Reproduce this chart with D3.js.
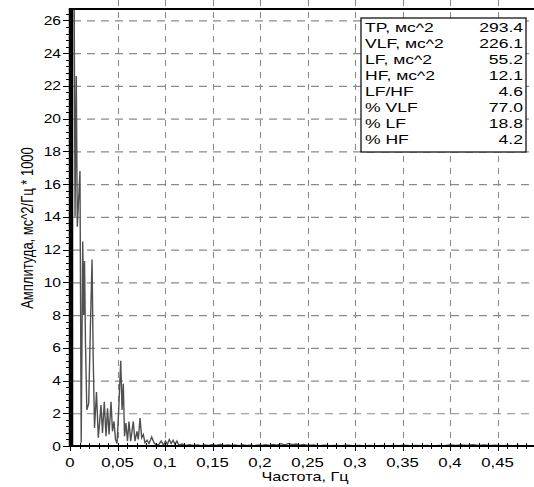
<!DOCTYPE html>
<html><head><meta charset="utf-8">
<script src="https://cdn.jsdelivr.net/npm/d3@7"></script>
<style>html,body{margin:0;padding:0;background:#fff;}svg{display:block;}</style>
</head><body>
<svg id="chart" width="534" height="487"></svg>
<script>
// ---- data ----
const specFreq = [0,0.0021,0.0042,0.0053,0.0066,0.0077,0.0105,0.0118,0.0134,0.0144,0.0153,0.0163,0.0177,0.0197,0.0214,0.0232,0.0244,0.0258,0.0279,0.0298,0.0311,0.0326,0.0342,0.0361,0.0379,0.0395,0.0411,0.0432,0.0447,0.0463,0.0479,0.0495,0.0511,0.0534,0.0548,0.0561,0.0574,0.0589,0.0605,0.0621,0.0639,0.0666,0.0684,0.0705,0.0719,0.0737,0.0755,0.0772,0.0789,0.0811,0.0832,0.0860,0.0884,0.0913,
  0.0935,0.096,0.0985,0.1005,0.1025,0.1045,0.1065,0.1085,0.1105,0.1125,0.1145,0.118,0.122,0.126,0.130,0.134,0.138,0.142,0.146,0.150,0.154,0.158,0.162,0.166,0.170,0.174,0.178,0.182,0.186,0.190,0.194,0.198,0.202,0.206,0.210,0.214,0.218,0.222,0.226,0.230,0.234,0.238,0.242,0.246,0.250,0.256,0.262,0.268,0.274,0.280,0.286,0.292,0.298,0.304,0.310,0.316,0.322,0.328,0.334,0.340,0.346,0.352,0.358,0.364,0.370,0.376,0.382,0.388,0.394,0.400,0.406,0.412,0.418,0.424,0.430,0.436,0.442,0.448,0.454,0.460,0.466,0.472,0.478,0.486];
const specAmp = [45,40,30,14,22.6,13.4,16.8,0.2,12.5,8,11.3,6.3,2.2,2.6,7.1,11.4,5.5,1.1,3.3,0.5,1.4,2.5,0.8,2.7,0.6,2.3,0.7,2.7,0.9,1.5,0.4,0.15,2.0,5.2,2.2,3.8,0.6,1.4,0.3,1.5,0.3,1.5,0.3,0.9,0.4,1.7,0.5,0.7,0.2,0.35,0.15,0.55,0.2,0.05,
  0.1,0.3,0.05,0.3,0.1,0.4,0.15,0.35,0.1,0.3,0.05,0.12,0.04,0.08,0.03,0.07,0.02,0.06,0.03,0.08,0.03,0.1,0.04,0.07,0.03,0.06,0.02,0.07,0.03,0.05,0.02,0.06,0.03,0.08,0.04,0.09,0.05,0.14,0.06,0.16,0.08,0.12,0.05,0.09,0.03,0.06,0.02,0.05,0.02,0.04,0.02,0.05,0.02,0.04,0.02,0.03,0.01,0.03,0.01,0.04,0.02,0.05,0.02,0.04,0.02,0.03,0.01,0.04,0.02,0.06,0.03,0.07,0.03,0.08,0.04,0.07,0.03,0.05,0.02,0.04,0.02,0.03,0.01,0.02];
const xTicks = [0,0.05,0.1,0.15,0.2,0.25,0.3,0.35,0.4,0.45];
const xTickLabels = ["0","0,05","0,1","0,15","0,2","0,25","0,3","0,35","0,4","0,45"];
const yTicks = [0,2,4,6,8,10,12,14,16,18,20,22,24,26];
const statNames = ["TP, мс^2","VLF, мс^2","LF, мс^2","HF, мс^2","LF/HF","% VLF","% LF","% HF"];
const statValues = ["293.4","226.1","55.2","12.1","4.6","77.0","18.8","4.2"];
const xTitle = "Частота, Гц";
const yTitle = "Амплитуда, мс^2/Гц * 1000";

// ---- layout ----
const svg = d3.select("#chart");
const L = 70, R = 534, T = 9, B = 446;
const x = d3.scaleLinear().domain([0, 0.5]).range([L, L + 475]);
const y = d3.scaleLinear().domain([0, 26.7]).range([B, T]);
const FONT = "'Liberation Sans', Arial, sans-serif";
const SX = 1.35;

function stext(g, tx, ty, str, size, anchor, sx) {
  return g.append("text")
    .attr("transform", `translate(${tx},${ty}) scale(${sx||SX},1)`)
    .attr("text-anchor", anchor || "start")
    .attr("font-family", FONT).attr("font-size", size)
    .attr("fill", "#000").text(str);
}

// grid
const grid = svg.append("g");
grid.selectAll("line.h").data(yTicks.filter(d => d > 0)).join("line")
  .attr("x1", L + 3).attr("x2", R).attr("y1", d => y(d) + 0.5).attr("y2", d => y(d) + 0.5)
  .attr("stroke", "#8a8a8a").attr("stroke-width", 1.2).attr("stroke-dasharray", "8,6");
grid.selectAll("line.v").data(xTicks.filter(d => d > 0)).join("line")
  .attr("x1", d => Math.round(x(d)) + 0.5).attr("x2", d => Math.round(x(d)) + 0.5)
  .attr("y1", 0).attr("y2", B)
  .attr("stroke", "#8a8a8a").attr("stroke-width", 1.1).attr("stroke-dasharray", "6,6");

// spectrum
svg.append("clipPath").attr("id", "clip").append("rect")
  .attr("x", L).attr("y", T).attr("width", R - L).attr("height", B - T);
const pts = specFreq.map((f, i) => [f, specAmp[i]]);
svg.append("path").datum(pts)
  .attr("clip-path", "url(#clip)")
  .attr("fill", "none").attr("stroke", "#505050").attr("stroke-width", 1.4)
  .attr("stroke-linejoin", "miter")
  .attr("d", d3.line().x(d => x(d[0])).y(d => y(d[1])));

// frame / axes
svg.append("line").attr("x1", L).attr("x2", R).attr("y1", T).attr("y2", T)
  .attr("stroke", "#000").attr("stroke-width", 2);
svg.append("line").attr("x1", L + 1).attr("x2", L + 1).attr("y1", T - 1).attr("y2", B + 1)
  .attr("stroke", "#000").attr("stroke-width", 4.5);
svg.append("line").attr("x1", L).attr("x2", R).attr("y1", B).attr("y2", B)
  .attr("stroke", "#000").attr("stroke-width", 2);

// y ticks
const yMinor = d3.range(0, 26.7, 0.4);
svg.append("g").selectAll("line").data(yMinor).join("line")
  .attr("x1", L - 4).attr("x2", L).attr("y1", d => Math.round(y(d)) + 0.5).attr("y2", d => Math.round(y(d)) + 0.5)
  .attr("stroke", "#000").attr("stroke-width", 1);
svg.append("g").selectAll("line").data(yTicks).join("line")
  .attr("x1", L - 7).attr("x2", L).attr("y1", d => Math.round(y(d)) + 0.5).attr("y2", d => Math.round(y(d)) + 0.5)
  .attr("stroke", "#000").attr("stroke-width", 1);
const yl = svg.append("g");
yTicks.forEach(d => stext(yl, 61, y(d) + 4.5, String(d), 12, "end", 1.3));

// x ticks
const xMinor = d3.range(0, 0.49, 0.01);
svg.append("g").selectAll("line").data(xMinor).join("line")
  .attr("x1", d => Math.round(x(d)) + 0.5).attr("x2", d => Math.round(x(d)) + 0.5)
  .attr("y1", B - 3).attr("y2", B + 3)
  .attr("stroke", "#000").attr("stroke-width", 1);
svg.append("g").selectAll("line").data(xTicks).join("line")
  .attr("x1", d => Math.round(x(d)) + 0.5).attr("x2", d => Math.round(x(d)) + 0.5)
  .attr("y1", B).attr("y2", B + 5)
  .attr("stroke", "#000").attr("stroke-width", 1);
const xl = svg.append("g");
xTicks.forEach((d, i) => stext(xl, x(d), 467, xTickLabels[i], 12, "middle", 1.4));

// titles
stext(svg, 305, 481, xTitle, 12, "middle", 1.35);
svg.append("text")
  .attr("transform", `translate(33,228) scale(1.2,1) rotate(-90)`)
  .attr("text-anchor", "middle").attr("font-family", FONT).attr("font-size", 13)
  .attr("fill", "#000").text(yTitle);

// legend box
const lg = svg.append("g");
lg.append("rect").attr("x", 361).attr("y", 18).attr("width", 165).attr("height", 134)
  .attr("fill", "#fff").attr("stroke", "#000").attr("stroke-width", 1.2);
statNames.forEach((n, i) => {
  stext(lg, 365, 31.5 + i * 16.1, n, 13.5, "start", 1.3);
  stext(lg, 523, 31.5 + i * 16.1, statValues[i], 13.5, "end", 1.3);
});
</script>
</body></html>
